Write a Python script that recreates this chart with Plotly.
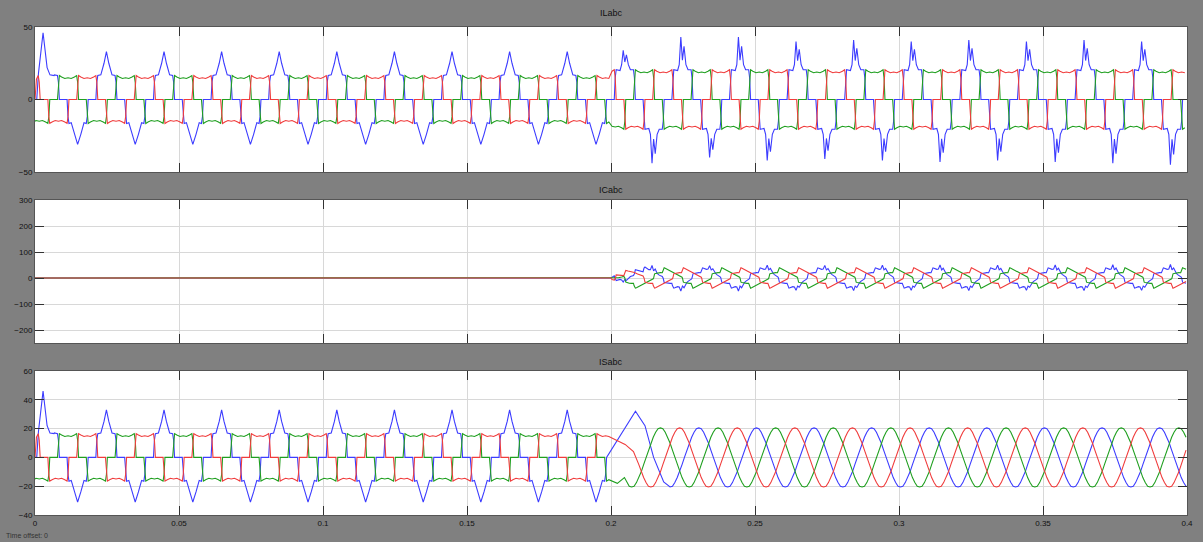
import numpy as np
import plotly.graph_objects as go

# ---------------- data ----------------
PERIOD = 0.02          # 50 Hz
T_SWITCH = 0.2         # compensator switched on
T_END = 0.4
BLUE_CENTER = 0.0048   # time of a regular positive spike of phase a (load)
IS_BLUE_PEAK = 0.0105  # time (mod period) of phase-a source current peak after 0.2 s
PHASE_NAMES = ["a", "b", "c"]
PHASE_OFFSET = [0.0, PERIOD / 3, 2 * PERIOD / 3]   # a, b, c
COLORS = ["#3c3cff", "#1f9f1f", "#f03c3c"]

# load-current block shape (phases b, c), degrees around positive block centre
BLOCK_DEG = [-180, -160, -140, -126, -120, -114, -66, -60, -54, -40, -20, 0,
             20, 40, 54, 60, 66, 114, 120, 126, 140, 160]
BLOCK_PRE = [-15, -14.5, -15.5, -16.5, -12, 0, 0, 12, 16.5, 15.5, 14.5, 15,
             14.5, 15.5, 16.5, 12, 0, 0, -12, -16.5, -15.5, -14.5]
BLOCK_POST = [-19, -18.5, -19.5, -20.5, -15, 0, 0, 15, 20.5, 19.5, 18.5, 19,
              18.5, 19.5, 20.5, 15, 0, 0, -15, -20.5, -19.5, -18.5]

# phase a load current (peaky), degrees around positive spike
BLUE_PRE_DEG = [-114, -66, -60, -54, -35, -15, 0, 15, 35, 54, 60, 66, 114,
                120, 126, 140, 160, 180, 200, 220, 234, 240]
BLUE_PRE = [0, 0, 12, 16.5, 17, 25, 33, 25, 17, 16.5, 12, 0, 0,
            -12, -16.5, -16, -24, -31, -24, -16, -16.5, -12]
BLUE_POST_DEG = [-114, -66, -60, -54, -30, -20, -10, 0, 10, 22, 35, 54, 60, 66,
                 114, 120, 126, 150, 160, 170, 180, 190, 202, 215, 234, 240]
BLUE_POST = [0, 0, 15, 20.5, 20, 24, 42, 27, 36, 24, 20.5, 20.5, 15, 0,
             0, -15, -20.5, -20, -24, -42, -27, -36, -24, -20.5, -20.5, -15]

# per-cycle spike heights of phase a load current
BLUE_POS_PEAK_PRE = [33, 33, 33, 33, 33, 33, 33, 33, 33, 33]
BLUE_NEG_PEAK_PRE = [-31, -31, -31, -31, -31, -31, -31, -31, -31, -31]
BLUE_POS_PEAK_POST = [34, 43, 43, 40, 41, 40, 41, 40, 41, 40]
BLUE_NEG_PEAK_POST = [-44, -40, -42, -41, -42, -43, -42, -43, -44, -45]

# start-up transient (t = 0)
INIT_T_BLUE = [0.0, 0.0006, 0.0012, 0.0028, 0.0042, 0.0052, 0.0066]
INIT_BLUE = [0, 0, 18, 46, 22, 17, 16.5]
INIT_T_RED = [0.0, 0.0005]
INIT_RED = [0, 14]
INIT_T_GREEN = [0.0]
INIT_GREEN = [-15]

# source current after compensation: one cycle around its peak
SINE_DEG = [0, 15, 30, 45, 60, 75, 90, 105, 120, 135, 150, 165, 180,
            195, 210, 225, 240, 255, 270, 285, 300, 315, 330, 345]
SINE_VALS = [20.5, 20, 17.5, 14, 10, 5, 0, -5, -10, -14, -17.5, -20, -20.5,
             -20, -17.5, -14, -10, -5, 0, 5, 10, 14, 17.5, 20]

# source current transient right after 0.2 s
IS_TR_T = {"a": [0.2045, 0.2085, 0.2118, 0.2148, 0.2183],
           "b": [0.2022],
           "c": [0.2049, 0.2078]}
IS_TR_V = {"a": [19, 32, 22, 0, -17],
           "b": [-18],
           "c": [9, 4]}
IS_SINE_START = {"a": 0.2205, "b": 0.2045, "c": 0.209}

TITLES = ["ILabc", "ICabc", "ISabc"]
X_TICKS = [0, 0.05, 0.1, 0.15, 0.2, 0.25, 0.3, 0.35, 0.4]
X_TICK_TEXT = ["0", "0.05", "0.1", "0.15", "0.2", "0.25", "0.3", "0.35", "0.4"]
Y_RANGES = [[-50, 50], [-250, 300], [-40, 60]]
Y_TICKS = [[-50, 0, 50], [-200, -100, 0, 100, 200, 300], [-40, -20, 0, 20, 40, 60]]


# ---------------- build the series ----------------
def tile(deg, vals, center0, t_lo, t_hi, scale_fn=None):
    deg = np.asarray(deg, float)
    vals = np.asarray(vals, float)
    ts, vs = [], []
    k0 = int(np.floor((t_lo - center0) / PERIOD)) - 2
    k1 = int(np.ceil((t_hi - center0) / PERIOD)) + 2
    for k in range(k0, k1 + 1):
        t = center0 + k * PERIOD + deg / 360.0 * PERIOD
        v = vals if scale_fn is None else scale_fn(k, vals)
        m = (t >= t_lo) & (t < t_hi)
        ts.append(t[m])
        vs.append(v[m])
    t = np.concatenate(ts)
    v = np.concatenate(vs)
    o = np.argsort(t, kind="stable")
    return t[o], v[o]


def spike_scaler(pos_peaks, neg_peaks, k_offset, nom_pos, nom_neg, level):
    def f(k, vals):
        i = min(max(k - k_offset, 0), len(pos_peaks) - 1)
        out = vals.copy()
        p = vals > level
        n = vals < -level
        out[p] = level + (vals[p] - level) * (pos_peaks[i] - level) / (nom_pos - level)
        out[n] = -(level + (-vals[n] - level) * (-neg_peaks[i] - level) / (-nom_neg - level))
        return out
    return f


load = {}
source = {}
comp = {}
for ph, off in zip(PHASE_NAMES, PHASE_OFFSET):
    c0 = BLUE_CENTER + off
    if ph == "a":
        t1, v1 = tile(BLUE_PRE_DEG, BLUE_PRE, c0, 0.0, T_SWITCH,
                      spike_scaler(BLUE_POS_PEAK_PRE, BLUE_NEG_PEAK_PRE, 0, 33, -31, 17))
        t2, v2 = tile(BLUE_POST_DEG, BLUE_POST, c0, T_SWITCH, T_END + 1e-9,
                      spike_scaler(BLUE_POS_PEAK_POST, BLUE_NEG_PEAK_POST, 10, 42, -42, 24.5))
        it, iv = INIT_T_BLUE, INIT_BLUE
    else:
        t1, v1 = tile(BLOCK_DEG, BLOCK_PRE, c0, 0.0, T_SWITCH)
        t2, v2 = tile(BLOCK_DEG, BLOCK_POST, c0, T_SWITCH, T_END + 1e-9)
        it, iv = (INIT_T_RED, INIT_RED) if ph == "c" else (INIT_T_GREEN, INIT_GREEN)
    m = t1 > it[-1]
    t_pre = np.concatenate([it, t1[m]])
    v_pre = np.concatenate([iv, v1[m]])
    load[ph] = (np.concatenate([t_pre, t2]), np.concatenate([v_pre, v2]))

    # source current: equal to load before switching, sinusoidal after
    ts, vs = tile(SINE_DEG, SINE_VALS, IS_BLUE_PEAK + off, IS_SINE_START[ph], T_END + 1e-9)
    st = np.concatenate([t_pre, IS_TR_T[ph], ts])
    sv = np.concatenate([v_pre, IS_TR_V[ph], vs])
    source[ph] = (st, sv)

    # compensator current = source - load (zero before switching)
    lt, lv = load[ph]
    grid = np.unique(np.concatenate([[T_SWITCH], lt[lt >= T_SWITCH], st[st >= T_SWITCH]]))
    grid = grid[grid <= T_END]
    cv = np.interp(grid, st, sv) - np.interp(grid, lt, lv)
    cv[0] = 0.0
    comp[ph] = (np.concatenate([[0.0], grid]), np.concatenate([[0.0], cv]))

panels = [load, comp, source]

# ---------------- figure ----------------
fig = go.Figure()
axis_ids = ["", "2", "3"]
for p, data in enumerate(panels):
    for ph, col in zip(PHASE_NAMES, COLORS):
        t, v = data[ph]
        fig.add_trace(go.Scatter(
            x=t, y=v, mode="lines", line=dict(color=col, width=1.1),
            xaxis="x" + axis_ids[p], yaxis="y" + axis_ids[p],
            showlegend=False, hoverinfo="skip"))

top, bot, H = 27, 515, 542 - 27 - 27
pix = [(27, 172), (200, 343), (371, 515)]
domains = [[(bot - b) / H, (bot - a) / H] for a, b in pix]

axis_font = dict(family="Liberation Sans, Arial, sans-serif", size=8, color="#111111")
layout = dict(
    width=1203, height=542,
    margin=dict(l=35, r=10, t=27, b=27),
    paper_bgcolor="#808080", plot_bgcolor="#ffffff",
    showlegend=False,
)
for p in range(3):
    xa = dict(
        range=[0, T_END], tickvals=X_TICKS, ticktext=X_TICK_TEXT,
        showticklabels=(p == 2), ticks="inside", ticklen=9, tickcolor="#333333",
        mirror="allticks", showline=True, linecolor="#555555", linewidth=1,
        showgrid=True, gridcolor="#d8d8d8", gridwidth=1, zeroline=False,
        tickfont=axis_font, anchor="y" + axis_ids[p], domain=[0, 1],
        ticklabeloverflow="allow",
    )
    if p > 0:
        xa["matches"] = "x"
    ya = dict(
        range=Y_RANGES[p], tickvals=Y_TICKS[p],
        ticks="inside", ticklen=9, tickcolor="#333333",
        mirror="allticks", showline=True, linecolor="#555555", linewidth=1,
        showgrid=True, gridcolor="#d8d8d8", gridwidth=1, zeroline=False,
        tickfont=axis_font, anchor="x" + axis_ids[p], domain=domains[p],
        ticklabeloverflow="allow",
    )
    layout["xaxis" + axis_ids[p]] = xa
    layout["yaxis" + axis_ids[p]] = ya

title_px = [13, 190, 362]
annotations = []
for p in range(3):
    annotations.append(dict(
        text=TITLES[p], x=0.5, xref="paper", y=(bot - title_px[p]) / H, yref="paper",
        showarrow=False, xanchor="center", yanchor="middle",
        font=dict(family="Liberation Sans, Arial, sans-serif", size=9, color="#111111")))
annotations.append(dict(
    text="Time offset: 0", x=-0.026, xref="paper", y=(bot - 535) / H, yref="paper",
    showarrow=False, xanchor="left", yanchor="middle", borderpad=0,
    font=dict(family="Liberation Sans, Arial, sans-serif", size=7, color="#333333")))
layout["annotations"] = annotations
fig.update_layout(**layout)

fig.write_html(
    "out.html",
    config={"displayModeBar": False},
    post_script="document.body.style.margin='0';document.body.style.overflow='hidden';",
)
